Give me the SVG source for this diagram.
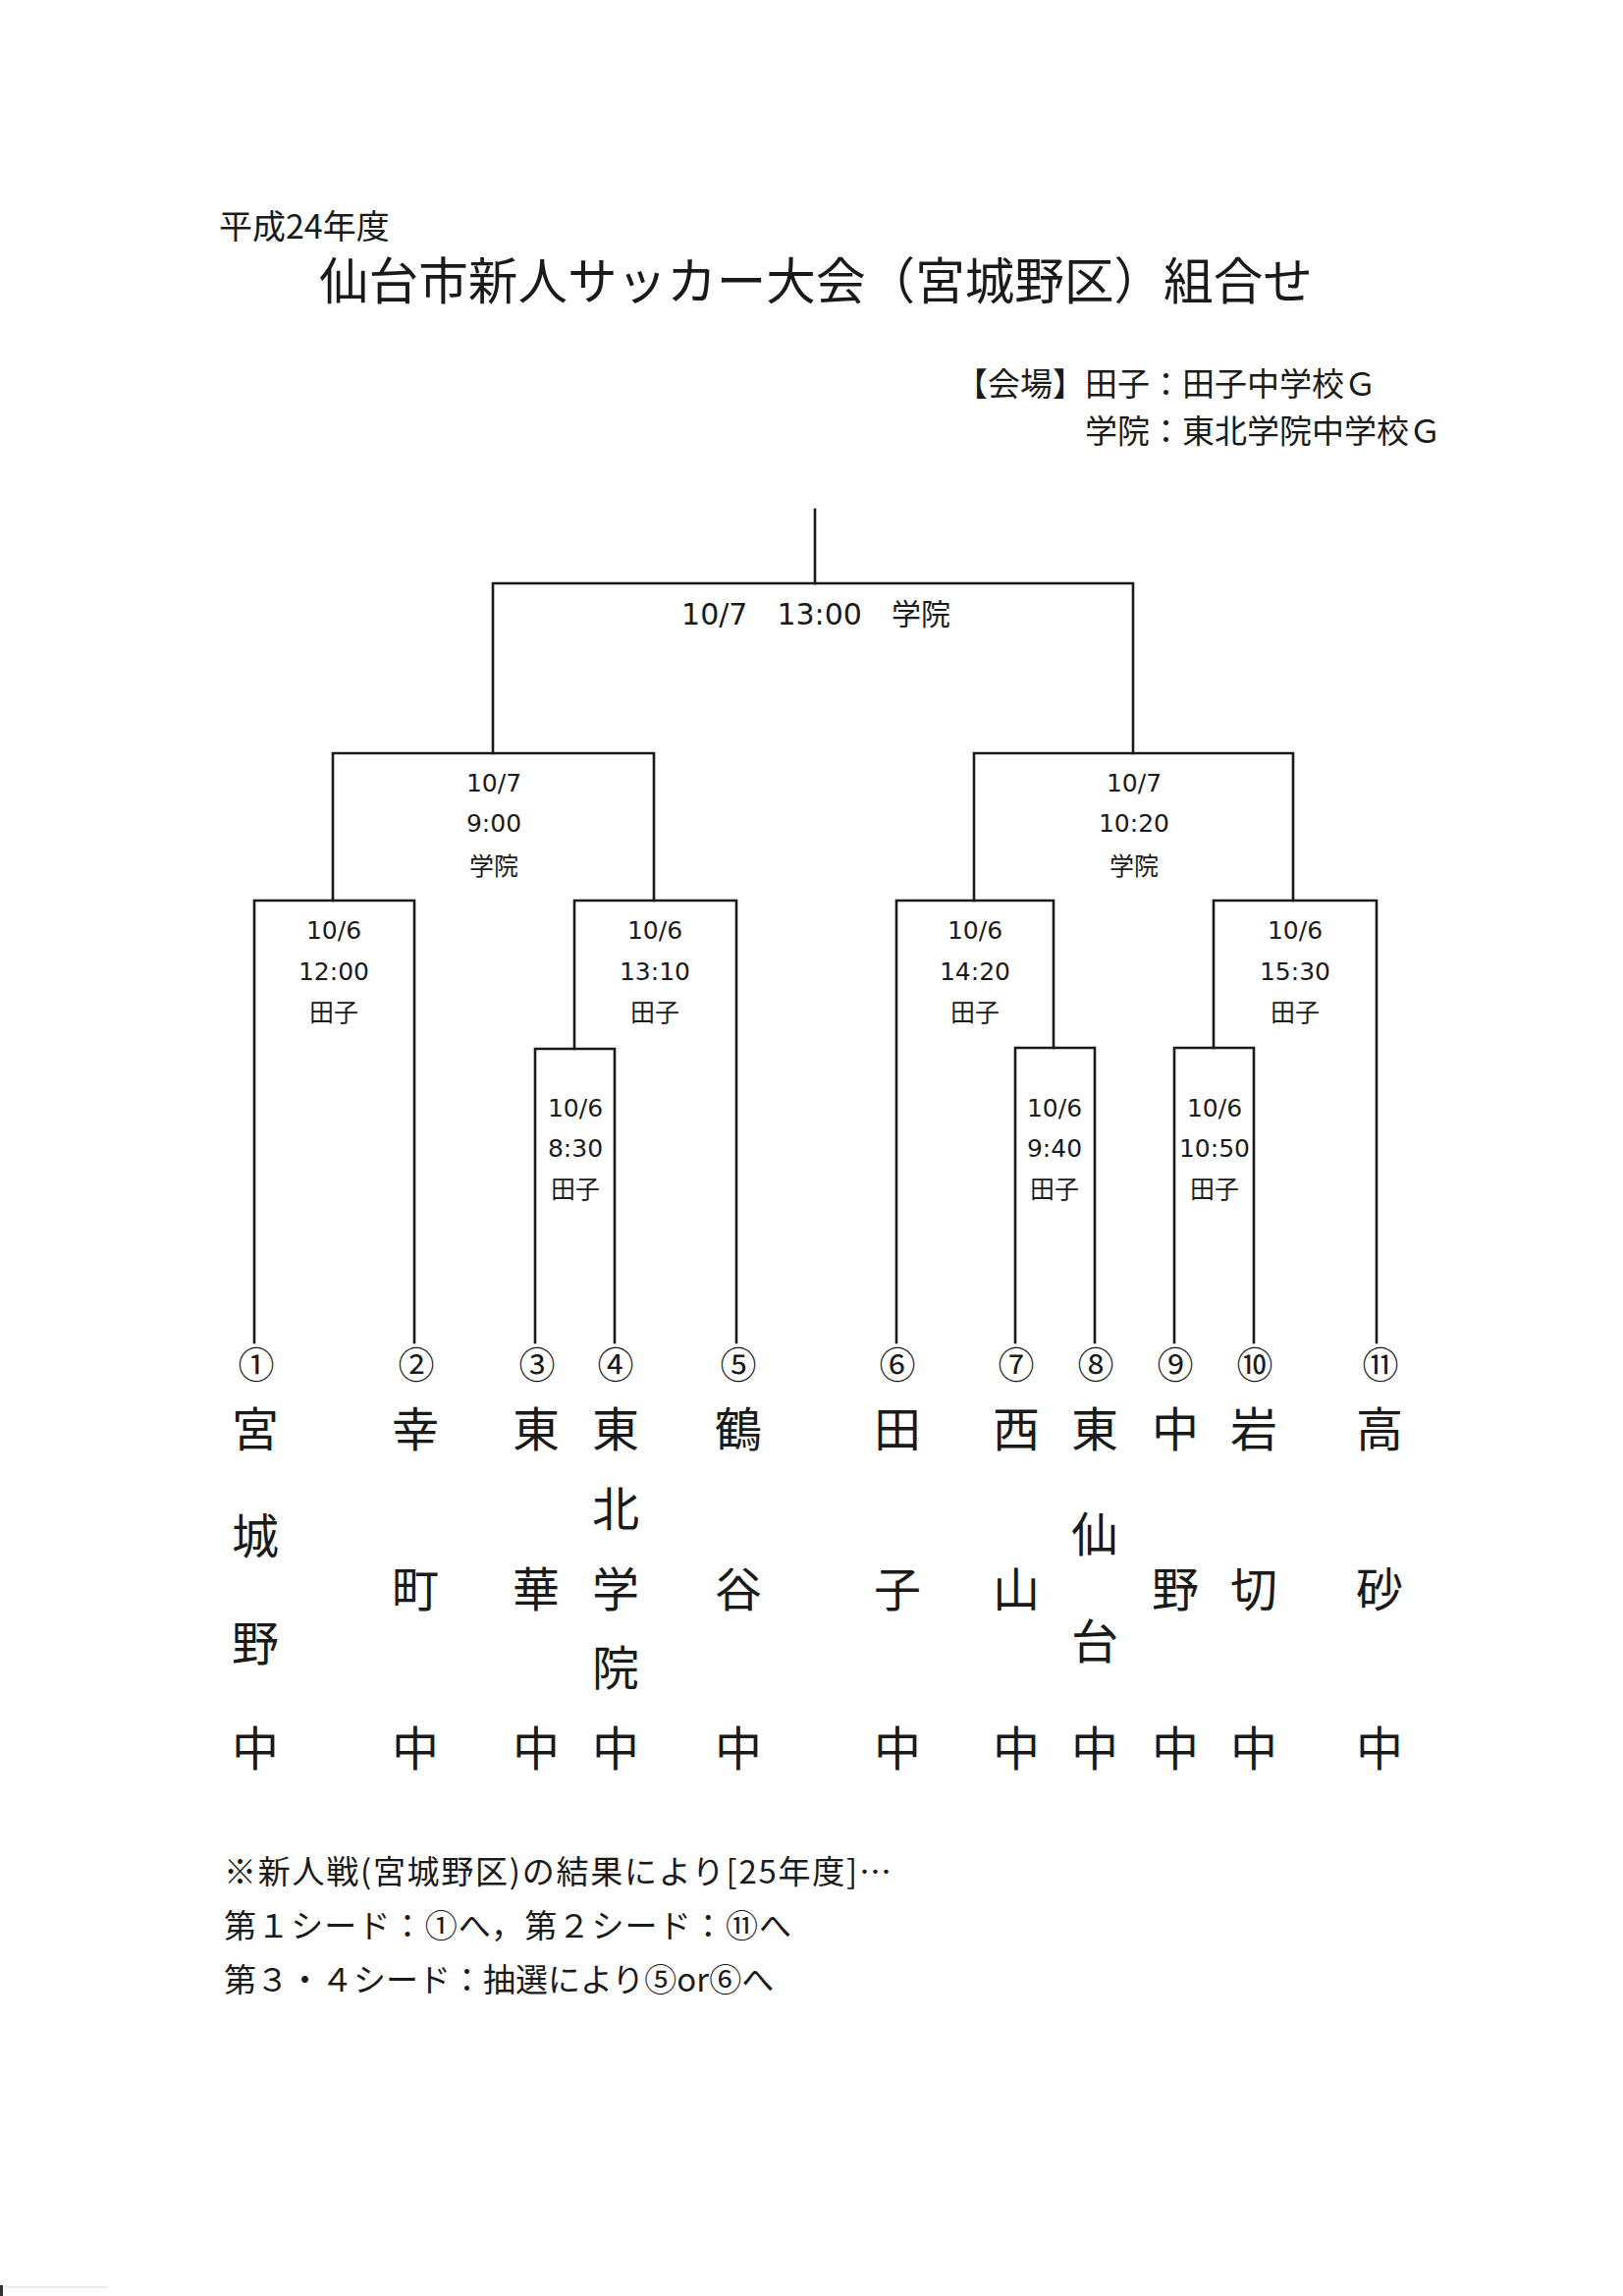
<svg xmlns="http://www.w3.org/2000/svg" width="1653" height="2338" viewBox="0 0 1653 2338">
<style>
.br{fill:none;stroke:#1a1a1a;stroke-width:2.6;stroke-linejoin:miter;stroke-linecap:square}
.lbl{font-family:"DejaVu Sans","Noto Sans CJK JP",sans-serif;font-size:25px;text-anchor:middle;fill:#1a1a1a}
.big{font-size:30px}
.jp{font-family:"Noto Sans CJK JP","Noto Sans CJK SC",sans-serif;fill:#1a1a1a}
.team{font-size:48px;text-anchor:middle}
.num{font-size:37px;text-anchor:middle}
.note{font-size:33px}
</style>
<rect width="1653" height="2338" fill="#ffffff"/>

<g id="header">
<text class="jp" x="223" y="243" font-size="34">平成24年度</text>
<text class="jp" x="325" y="305" font-size="50.6">仙台市新人サッカー大会（宮城野区）組合せ</text>
<text class="jp" x="973" y="403" font-size="33">【会場】田子：田子中学校Ｇ</text>
<text class="jp" x="1105" y="451" font-size="33">学院：東北学院中学校Ｇ</text>
</g>

<g id="connectors">
<path class="br" d="M830 519 V594"/>
<path class="br" d="M502 767 V594 H1154 V767"/>
<path class="br" d="M339 917 V767 H666 V917"/>
<path class="br" d="M992 917 V767 H1317 V917"/>
<path class="br" d="M259 1367 V917 H422 V1367"/>
<path class="br" d="M585 1068 V917 H750 V1367"/>
<path class="br" d="M545 1367 V1068 H626 V1367"/>
<path class="br" d="M913 1367 V917 H1073 V1067"/>
<path class="br" d="M1034 1367 V1067 H1115 V1367"/>
<path class="br" d="M1236 1067 V917 H1402 V1367"/>
<path class="br" d="M1196 1367 V1067 H1277 V1367"/>
</g>

<g id="match-final">
<text class="lbl big" x="831" y="636">10/7　13:00　学院</text>
</g>
<g id="match-semi-1">
<text class="lbl"><tspan x="503" y="806">10/7</tspan><tspan x="503" y="847">9:00</tspan><tspan x="503" y="891">学院</tspan></text>
</g>
<g id="match-semi-2">
<text class="lbl"><tspan x="1155" y="806">10/7</tspan><tspan x="1155" y="847">10:20</tspan><tspan x="1155" y="891">学院</tspan></text>
</g>
<g id="match-qf-1">
<text class="lbl"><tspan x="340" y="956">10/6</tspan><tspan x="340" y="998">12:00</tspan><tspan x="340" y="1040">田子</tspan></text>
</g>
<g id="match-qf-2">
<text class="lbl"><tspan x="667" y="956">10/6</tspan><tspan x="667" y="998">13:10</tspan><tspan x="667" y="1040">田子</tspan></text>
</g>
<g id="match-qf-3">
<text class="lbl"><tspan x="993" y="956">10/6</tspan><tspan x="993" y="998">14:20</tspan><tspan x="993" y="1040">田子</tspan></text>
</g>
<g id="match-qf-4">
<text class="lbl"><tspan x="1319" y="956">10/6</tspan><tspan x="1319" y="998">15:30</tspan><tspan x="1319" y="1040">田子</tspan></text>
</g>
<g id="match-r1-1">
<text class="lbl"><tspan x="586" y="1137">10/6</tspan><tspan x="586" y="1178">8:30</tspan><tspan x="586" y="1220">田子</tspan></text>
</g>
<g id="match-r1-2">
<text class="lbl"><tspan x="1074" y="1137">10/6</tspan><tspan x="1074" y="1178">9:40</tspan><tspan x="1074" y="1220">田子</tspan></text>
</g>
<g id="match-r1-3">
<text class="lbl"><tspan x="1237" y="1137">10/6</tspan><tspan x="1237" y="1178">10:50</tspan><tspan x="1237" y="1220">田子</tspan></text>
</g>

<g id="team-01">
<text class="jp num" x="261" y="1404">①</text>
<text class="jp team"><tspan x="260" y="1473">宮</tspan><tspan x="260" y="1582">城</tspan><tspan x="260" y="1691">野</tspan><tspan x="260" y="1798">中</tspan></text>
</g>
<g id="team-02">
<text class="jp num" x="424" y="1404">②</text>
<text class="jp team"><tspan x="423" y="1473">幸</tspan><tspan x="423" y="1636">町</tspan><tspan x="423" y="1798">中</tspan></text>
</g>
<g id="team-03">
<text class="jp num" x="547" y="1404">③</text>
<text class="jp team"><tspan x="546" y="1473">東</tspan><tspan x="546" y="1636">華</tspan><tspan x="546" y="1798">中</tspan></text>
</g>
<g id="team-04">
<text class="jp num" x="627" y="1404">④</text>
<text class="jp team"><tspan x="627" y="1473">東</tspan><tspan x="627" y="1554">北</tspan><tspan x="627" y="1636">学</tspan><tspan x="627" y="1716">院</tspan><tspan x="627" y="1798">中</tspan></text>
</g>
<g id="team-05">
<text class="jp num" x="752" y="1404">⑤</text>
<text class="jp team"><tspan x="752" y="1473">鶴</tspan><tspan x="752" y="1636">谷</tspan><tspan x="752" y="1798">中</tspan></text>
</g>
<g id="team-06">
<text class="jp num" x="914" y="1404">⑥</text>
<text class="jp team"><tspan x="914" y="1473">田</tspan><tspan x="914" y="1636">子</tspan><tspan x="914" y="1798">中</tspan></text>
</g>
<g id="team-07">
<text class="jp num" x="1035" y="1404">⑦</text>
<text class="jp team"><tspan x="1035" y="1473">西</tspan><tspan x="1035" y="1636">山</tspan><tspan x="1035" y="1798">中</tspan></text>
</g>
<g id="team-08">
<text class="jp num" x="1116" y="1404">⑧</text>
<text class="jp team"><tspan x="1115" y="1473">東</tspan><tspan x="1115" y="1580">仙</tspan><tspan x="1115" y="1689">台</tspan><tspan x="1115" y="1798">中</tspan></text>
</g>
<g id="team-09">
<text class="jp num" x="1197" y="1404">⑨</text>
<text class="jp team"><tspan x="1197" y="1473">中</tspan><tspan x="1197" y="1636">野</tspan><tspan x="1197" y="1798">中</tspan></text>
</g>
<g id="team-10">
<text class="jp num" x="1278" y="1404">⑩</text>
<text class="jp team"><tspan x="1277" y="1473">岩</tspan><tspan x="1277" y="1636">切</tspan><tspan x="1277" y="1798">中</tspan></text>
</g>
<g id="team-11">
<text class="jp num" x="1406" y="1404">⑪</text>
<text class="jp team"><tspan x="1405" y="1473">高</tspan><tspan x="1405" y="1636">砂</tspan><tspan x="1405" y="1798">中</tspan></text>
</g>

<g id="notes">
<text class="jp note" x="228" y="1918" textLength="680" lengthAdjust="spacing">※新人戦(宮城野区)の結果により[25年度]…</text>
<text class="jp note" x="228" y="1973" textLength="578" lengthAdjust="spacing">第１シード：①へ，第２シード：⑪へ</text>
<text class="jp note" x="228" y="2028">第３・４シード：抽選により⑤or⑥へ</text>
</g>

<g id="scan-marks">
<rect x="0" y="2327" width="3" height="11" fill="#333"/>
<line x1="4" y1="2329" x2="110" y2="2329" stroke="#e4e4e4" stroke-width="1.5"/>
</g>
</svg>
